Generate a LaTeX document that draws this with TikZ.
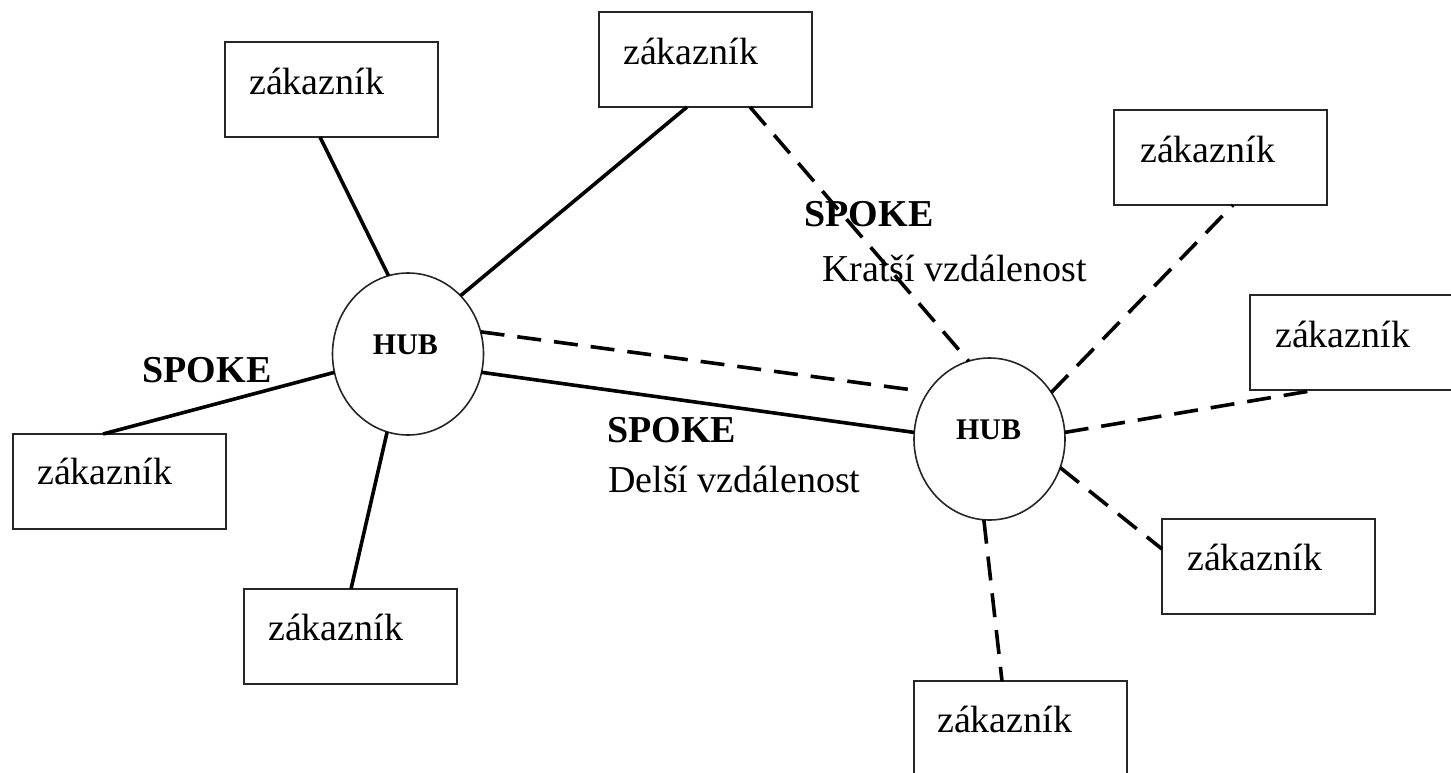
\documentclass[tikz,border=0pt]{standalone}
\usepackage{fontspec}
\setmainfont{Liberation Serif}
\usetikzlibrary{shapes.geometric}
\begin{document}
\begin{tikzpicture}[x=1pt,y=-1pt,
  box/.style={draw=black!85,line width=2pt,rectangle,anchor=north west,minimum width=213pt,minimum height=95pt,inner sep=0pt,outer sep=0pt},
  cust/.style={anchor=base west,inner sep=0pt,font=\fontsize{38}{44}\selectfont},
  hub/.style={draw=black!85,line width=1.6pt,ellipse,minimum width=151pt,minimum height=162pt,inner sep=0pt,outer sep=0pt},
  hubtxt/.style={inner sep=0pt,font=\fontsize{30}{34}\selectfont\bfseries},
  spoketxt/.style={inner sep=0pt,font=\fontsize{38}{44}\selectfont\bfseries},
  note/.style={anchor=base west,inner sep=0pt,font=\fontsize{38}{44}\selectfont},
  solidcon/.style={line width=3.6pt},
  dashcon/.style={line width=3.6pt,dash pattern=on 24pt off 13pt}]
\clip (0,0) rectangle (1451,772);
\fill[white] (0,0) rectangle (1451,772);
% boxes
\node[box] (b1) at (225,42) {};
\node[box] (b2) at (599,12) {};
\node[box] (b3) at (1114,110) {};
\node[box] (b4) at (1250,295) {};
\node[box] (b5) at (13,434) {};
\node[box] (b6) at (244,589) {};
\node[box] (b7) at (1162,519) {};
\node[box] (b8) at (914,681) {};
% box texts
\node[cust] (t1) at (249,94) {zákazník};
\node[cust] (t2) at (623,64) {zákazník};
\node[cust] (t3) at (1140,162) {zákazník};
\node[cust] (t4) at (1275,347) {zákazník};
\node[cust] (t5) at (37,484) {zákazník};
\node[cust] (t6) at (268,640) {zákazník};
\node[cust] (t7) at (1187,570) {zákazník};
\node[cust] (t8) at (937,732) {zákazník};
% hubs
\node[hub] (hub1) at (408,354) {};
\node[hub] (hub2) at (989.5,439) {};
\node[hubtxt] (h1t) at (405.5,345) {HUB};
\node[hubtxt] (h2t) at (988.5,430) {HUB};
% labels
\node[spoketxt] (s1) at (207,370) {SPOKE};
\node[spoketxt] (s2) at (671.5,430) {SPOKE};
\node[note] (n2) at (608,492) {Delší vzdálenost};
\node[spoketxt] (s3) at (869,214) {SPOKE};
\node[note] (n3) at (822,281) {Kratší vzdálenost};
\coordinate (d2) at (913,390);
% connectors
\draw[solidcon] ([xshift=95pt]b1.south west) -- (hub1.104.7);
\draw[solidcon] ([xshift=88pt]b2.south west) -- (hub1.48.6);
\draw[dashcon] ([xshift=151pt]b2.south west) -- (hub2.105.3);
\draw[solidcon] (hub1.-14.2) -- (hub2.175.5);
\draw[dashcon] (hub1.17.7) -- (d2);
\draw[solidcon] (hub1.194.2) -- ([xshift=90pt]b5.north west);
\draw[solidcon] (hub1.255.5) -- ([xshift=107pt]b6.north west);
\draw[dashcon] (hub2.37.2) -- ([xshift=119pt]b3.south west);
\draw[dashcon] (hub2.5.3) -- ([xshift=66pt]b4.south west);
\draw[dashcon] (hub2.-22.3) -- ([yshift=-30pt]b7.north west);
\draw[dashcon] (hub2.266.9) -- ([xshift=88pt]b8.north west);
\end{tikzpicture}
\end{document}
